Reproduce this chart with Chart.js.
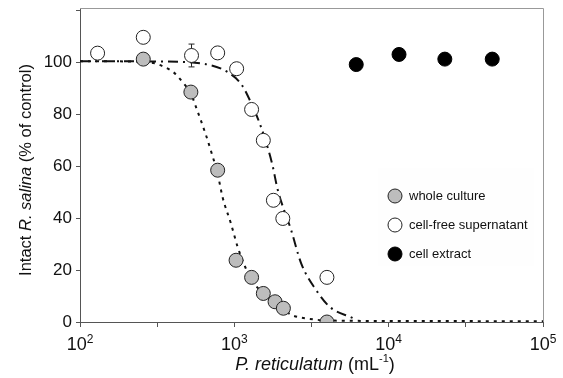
<!DOCTYPE html>
<html>
<head>
<meta charset="utf-8">
<script src="https://cdn.jsdelivr.net/npm/chart.js@4"></script>
<style>
  html, body { margin: 0; padding: 0; background: #fff; }
  #chart { display: block; }
</style>
</head>
<body>
<canvas id="chart" width="563" height="378"></canvas>
<script>
// measured points, x = cells per mL, y = % of control
const xWhole = [257, 523, 780, 1026, 1294, 1541, 1836, 2079, 3981];
const yWhole = [101.3, 88.6, 58.5, 23.8, 17.2, 11.0, 7.8, 5.3, 0];

const xSuper = [130, 257, 528, 780, 1035, 1294, 1541, 1791, 2061, 3981];
const ySuper = [103.6, 109.7, 102.7, 103.7, 97.6, 81.9, 70, 46.9, 39.9, 17.2];
const errSuper = [0, 0, 4.4, 0, 0, 0, 0, 0, 0, 0];

const xExtract = [6164, 11670, 23120, 46880];
const yExtract = [99.2, 103.1, 101.3, 101.3];

// fitted curves
const xWholeFit = [100, 250, 300, 360, 408, 461, 523, 563, 655, 705, 780, 840, 950, 1050, 1180, 1300, 1540, 1840, 2100, 2400, 3070, 4000, 10000, 100000];
const yWholeFit = [100.5, 100.3, 99.8, 98, 96, 92.5, 88, 83, 72, 66, 57, 48, 38, 29, 21, 16, 11, 7, 4.5, 2.5, 1.2, 0.6, 0.4, 0.3];

const xSuperFit = [100, 316, 630, 906, 1104, 1219, 1489, 1757, 1910, 2334, 2710, 3390, 4140, 5860];
const ySuperFit = [100.5, 100.4, 99.5, 96.3, 91.8, 87.3, 75.1, 61, 51, 35.4, 22.6, 12.3, 5.9, 1.5];

const legendLabels = ['whole culture', 'cell-free supernatant', 'cell extract'];
const xTickExps = [2, 2.5, 3, 3.5, 4, 4.5, 5];
const yTicks = [0, 20, 40, 60, 80, 100, 120];

const FONT = "'Liberation Sans', Arial, sans-serif";

function pts(xs, ys) {
  return xs.map((x, i) => ({ x: x, y: ys[i] }));
}

function drawRich(ctx, parts, x, y) {
  // parts: [{text, font, dy}], centred on x, baseline y
  let total = 0;
  parts.forEach(p => { ctx.font = p.font; p.w = ctx.measureText(p.text).width; total += p.w; });
  let cx = x - total / 2;
  ctx.textAlign = 'left';
  ctx.textBaseline = 'alphabetic';
  parts.forEach(p => {
    ctx.font = p.font;
    ctx.fillText(p.text, cx, y + (p.dy || 0));
    cx += p.w;
  });
}

const extras = {
  id: 'extras',
  beforeDatasetsDraw(chart) {
    const ctx = chart.ctx, xs = chart.scales.x, ys = chart.scales.y;
    ctx.save();
    ctx.strokeStyle = '#222';
    ctx.lineWidth = 1;
    errSuper.forEach((e, i) => {
      if (!e) return;
      const px = xs.getPixelForValue(xSuper[i]);
      const top = ys.getPixelForValue(ySuper[i] + e);
      const bot = ys.getPixelForValue(ySuper[i] - e);
      ctx.beginPath();
      ctx.moveTo(px, top); ctx.lineTo(px, bot);
      ctx.moveTo(px - 3, top); ctx.lineTo(px + 3, top);
      ctx.moveTo(px - 3, bot); ctx.lineTo(px + 3, bot);
      ctx.stroke();
    });
    ctx.restore();
  },
  afterDraw(chart) {
    const ctx = chart.ctx, a = chart.chartArea, xs = chart.scales.x;
    ctx.save();

    // frame top and right
    ctx.strokeStyle = '#999';
    ctx.lineWidth = 1;
    ctx.beginPath();
    ctx.moveTo(a.left, a.top + 0.5);
    ctx.lineTo(a.right + 0.5, a.top + 0.5);
    ctx.lineTo(a.right + 0.5, a.bottom);
    ctx.stroke();

    // x tick labels 10^n
    ctx.fillStyle = '#111';
    xTickExps.forEach(e => {
      if (e % 1 !== 0) return;
      const px = xs.getPixelForValue(Math.pow(10, e));
      drawRich(ctx, [
        { text: '10', font: '18px ' + FONT },
        { text: String(e), font: '12px ' + FONT, dy: -7 }
      ], px, 350);
    });

    // axis titles
    drawRich(ctx, [
      { text: 'P. reticulatum', font: 'italic 18px ' + FONT },
      { text: ' (mL', font: '18px ' + FONT },
      { text: '-1', font: '11px ' + FONT, dy: -8 },
      { text: ')', font: '18px ' + FONT }
    ], 315, 370);

    ctx.save();
    ctx.translate(31, 170);
    ctx.rotate(-Math.PI / 2);
    drawRich(ctx, [
      { text: 'Intact ', font: '16.5px ' + FONT },
      { text: 'R. salina', font: 'italic 16.5px ' + FONT },
      { text: ' (% of control)', font: '16.5px ' + FONT }
    ], 0, 0);
    ctx.restore();

    // legend
    ctx.fillStyle = 'rgba(245,245,245,0.15)';
    ctx.fillRect(378, 168, 156, 98);
    const rows = [196, 225, 254];
    const sets = [chart.data.datasets[2], chart.data.datasets[3], chart.data.datasets[4]];
    rows.forEach((ry, i) => {
      ctx.beginPath();
      ctx.arc(395, ry, 7, 0, Math.PI * 2);
      ctx.fillStyle = sets[i].backgroundColor;
      ctx.fill();
      ctx.lineWidth = 1;
      ctx.strokeStyle = sets[i].borderColor;
      ctx.stroke();
      ctx.fillStyle = '#111';
      ctx.font = '13px ' + FONT;
      ctx.textAlign = 'left';
      ctx.textBaseline = 'middle';
      ctx.fillText(legendLabels[i], 409, ry);
    });

    ctx.restore();
  }
};

new Chart(document.getElementById('chart').getContext('2d'), {
  type: 'scatter',
  data: {
    datasets: [
      {
        data: pts(xWholeFit, yWholeFit),
        showLine: true, pointRadius: 0, borderColor: '#111', borderWidth: 2,
        borderDash: [3, 5], cubicInterpolationMode: 'monotone', order: 3
      },
      {
        data: pts(xSuperFit, ySuperFit),
        showLine: true, pointRadius: 0, borderColor: '#111', borderWidth: 2,
        borderDash: [10, 5, 2, 5], cubicInterpolationMode: 'monotone', order: 3
      },
      {
        label: legendLabels[0], data: pts(xWhole, yWhole),
        pointRadius: 7, pointBorderWidth: 1, backgroundColor: '#bdbdbd', borderColor: '#222', order: 1
      },
      {
        label: legendLabels[1], data: pts(xSuper, ySuper),
        pointRadius: 7, pointBorderWidth: 1, backgroundColor: '#ffffff', borderColor: '#222', order: 1
      },
      {
        label: legendLabels[2], data: pts(xExtract, yExtract),
        pointRadius: 7, pointBorderWidth: 1, backgroundColor: '#000000', borderColor: '#000', order: 1
      }
    ]
  },
  options: {
    responsive: false,
    animation: false,
    devicePixelRatio: 1,
    layout: { padding: { top: 8, right: 20, left: 0, bottom: 0 } },
    plugins: { legend: { display: false }, tooltip: { enabled: false } },
    scales: {
      x: {
        type: 'logarithmic', min: 100, max: 100000,
        afterBuildTicks: (scale) => { scale.ticks = xTickExps.map(e => ({ value: Math.pow(10, e) })); },
        afterFit: (scale) => { scale.height = 56; },
        ticks: { display: false },
        grid: { display: true, drawOnChartArea: false, tickLength: 5, color: '#555' },
        border: { color: '#555' }
      },
      y: {
        min: 0, max: 121,
        afterBuildTicks: (scale) => { scale.ticks = yTicks.map(v => ({ value: v })); },
        afterFit: (scale) => { scale.width = 80; scale.paddingTop = 0; scale.paddingBottom = 0; },
        ticks: {
          padding: 4, color: '#111', font: { family: FONT, size: 17 },
          callback: (v) => (v === 120 ? '' : v)
        },
        grid: { display: true, drawOnChartArea: false, tickLength: 4, color: '#555' },
        border: { color: '#555' }
      }
    }
  },
  plugins: [extras]
});
</script>
</body>
</html>
